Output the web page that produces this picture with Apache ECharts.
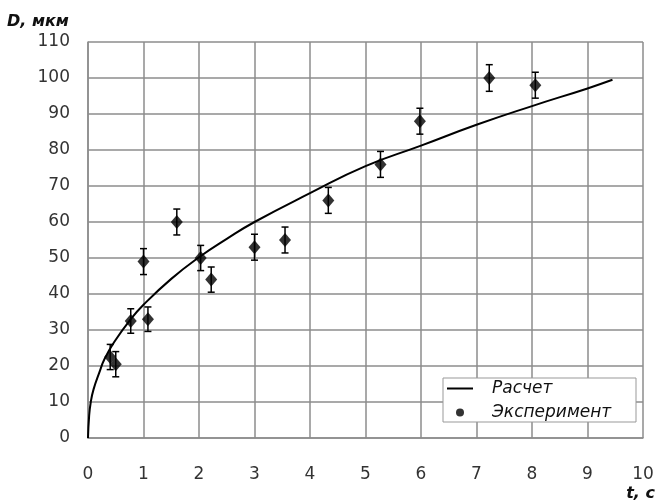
<!DOCTYPE html>
<html>
<head>
<meta charset="utf-8">
<script src="https://cdn.jsdelivr.net/npm/echarts@6/dist/echarts.min.js"></script>
<style>html,body{margin:0;padding:0;background:#fff}#c{width:657px;height:504px}</style>
</head>
<body>
<div id="c"></div>
<script>
// Calculated curve
const calcT = [0, 0.02, 0.05, 0.1, 0.2, 0.3, 0.5, 0.75, 1, 1.5, 2, 2.5, 3, 4, 5, 6, 7, 8, 9, 9.45];
const calcD = [0, 6, 10, 13.5, 18, 22, 27.3, 32.6, 37, 44.2, 50.2, 55.3, 60, 68, 75.5, 81.2, 87, 92.2, 97.1, 99.5];
// Experimental points
const expT = [0.4, 0.5, 0.77, 1.0, 1.08, 1.6, 2.03, 2.22, 3.0, 3.55, 4.33, 5.27, 5.98, 7.23, 8.06];
const expD = [22.5, 20.5, 32.5, 49, 33, 60, 50, 44, 53, 55, 66, 76, 88, 100, 98];
const expErr = [3.5, 3.5, 3.4, 3.6, 3.4, 3.6, 3.5, 3.5, 3.6, 3.6, 3.6, 3.6, 3.6, 3.7, 3.6];
const xTicks = [0,1,2,3,4,5,6,7,8,9,10];
const yTicks = [0,10,20,30,40,50,60,70,80,90,100,110];

const chart = echarts.init(document.getElementById('c'));
const gridColor = '#8c8c8c';
const labelFont = {fontFamily: 'DejaVu Sans, sans-serif', fontSize: 17, color: '#333'};
const legendText = {fontFamily: 'DejaVu Sans, sans-serif', fontSize: 17, fontStyle: 'italic', color: '#111', padding: [0, 0, 0, 14]};
chart.setOption({
  animation: false,
  backgroundColor: '#fff',
  grid: {left: 88, right: 14, top: 42, bottom: 66},
  xAxis: {
    type: 'value', min: xTicks[0], max: xTicks[xTicks.length-1], interval: 1,
    axisLine: {show: true, onZero: false, lineStyle: {color: gridColor, width: 1.5}},
    axisTick: {show: false},
    splitLine: {show: true, lineStyle: {color: gridColor, width: 1.5}},
    axisLabel: Object.assign({margin: 28}, labelFont)
  },
  yAxis: {
    type: 'value', min: yTicks[0], max: yTicks[yTicks.length-1], interval: 10,
    axisLine: {show: true, lineStyle: {color: gridColor, width: 1.5}},
    axisTick: {show: false},
    splitLine: {show: true, lineStyle: {color: gridColor, width: 1.5}},
    axisLabel: Object.assign({margin: 18}, labelFont)
  },
  legend: [
    {
      orient: 'vertical', left: 447, top: 380, z: 10, padding: 0,
      itemWidth: 26, itemHeight: 2, textStyle: legendText,
      data: [{name: 'Расчет', icon: 'rect', itemStyle: {color: '#000'}}]
    },
    {
      orient: 'vertical', left: 456, top: 404, z: 10, padding: 0,
      itemWidth: 26, itemHeight: 8, textStyle: legendText,
      data: [{name: 'Эксперимент', icon: 'circle', itemStyle: {color: '#000'}}]
    }
  ],
  graphic: [
    {type: 'rect', z: 8, shape: {x: 443, y: 378, width: 193, height: 44}, style: {fill: '#fff', stroke: '#999', lineWidth: 1}},
    {type: 'text', left: 7, top: 14, style: {text: 'D, мкм', font: 'italic bold 16px DejaVu Sans, sans-serif', fill: '#111'}},
    {type: 'text', right: 2, top: 486, style: {text: 't, c', font: 'italic bold 16px DejaVu Sans, sans-serif', fill: '#111'}}
  ],
  series: [
    {
      name: 'Расчет', type: 'line', smooth: true, symbol: 'none',
      lineStyle: {color: '#000', width: 2}, itemStyle: {color: '#000'},
      data: calcT.map((t, i) => [t, calcD[i]]), z: 3
    },
    {
      name: 'errors', type: 'custom',
      data: expT.map((t, i) => [t, expD[i] - expErr[i], expD[i] + expErr[i]]),
      renderItem: function (params, api) {
        const lo = api.coord([api.value(0), api.value(1)]);
        const hi = api.coord([api.value(0), api.value(2)]);
        const w = 3.5;
        const st = {stroke: '#000', lineWidth: 1.5};
        return {type: 'group', children: [
          {type: 'line', shape: {x1: lo[0], y1: lo[1], x2: hi[0], y2: hi[1]}, style: st},
          {type: 'line', shape: {x1: lo[0]-w, y1: lo[1], x2: lo[0]+w, y2: lo[1]}, style: st},
          {type: 'line', shape: {x1: hi[0]-w, y1: hi[1], x2: hi[0]+w, y2: hi[1]}, style: st}
        ]};
      }, z: 4
    },
    {
      name: 'Эксперимент', type: 'scatter', symbol: 'diamond', symbolSize: [12, 14],
      itemStyle: {color: '#000'},
      data: expT.map((t, i) => [t, expD[i]]), z: 5
    }
  ]
});
</script>
</body>
</html>
